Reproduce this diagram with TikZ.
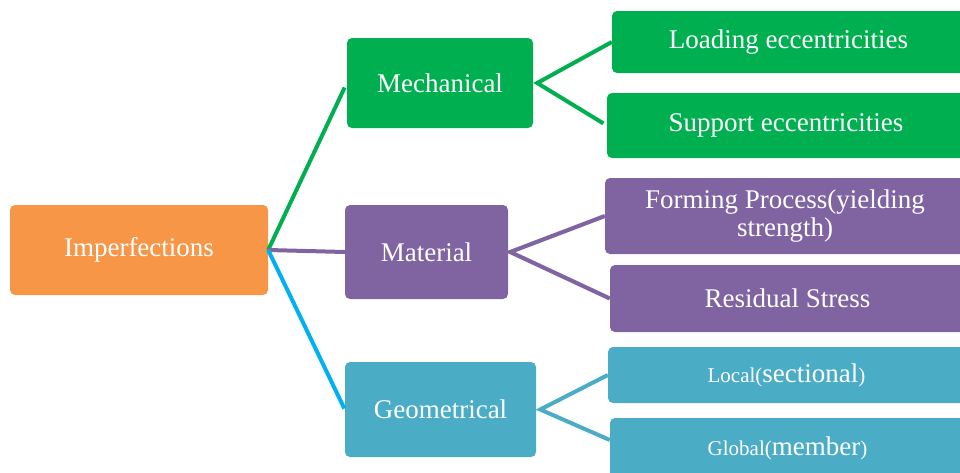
\documentclass[tikz,border=0pt]{standalone}
\usepackage{fontspec}
\setmainfont{Liberation Serif}
\usepackage{tikz}

\definecolor{mechgreen}{RGB}{0,176,80}
\definecolor{imporange}{RGB}{247,150,70}
\definecolor{matpurple}{RGB}{128,100,162}
\definecolor{geoteal}{RGB}{75,172,198}
\definecolor{linkblue}{RGB}{0,176,240}

\tikzset{
  box/.style={rounded corners=5pt, draw=none, text=white, align=center,
    inner sep=0pt, font=\fontsize{27}{30}\selectfont},
  link/.style={line width=4pt},
}

\begin{document}
\begin{tikzpicture}[x=1pt,y=1pt,yscale=-1,xscale=1]
    \useasboundingbox (0,0) rectangle (960,472);
    \clip (0,0) rectangle (960,472);

    % Text Node
    \node [box, fill=imporange, minimum width=258pt, minimum height=90pt] (imp) at (139,250) {Imperfections};
    % Text Node
    \node [box, fill=mechgreen, minimum width=186pt, minimum height=90pt] (mech) at (440,83) {Mechanical};
    % Text Node
    \node [box, fill=matpurple, minimum width=163pt, minimum height=94pt] (mat) at (426.5,252) {Material};
    % Text Node
    \node [box, fill=geoteal, minimum width=191pt, minimum height=95pt] (geo) at (440.5,409.5) {Geometrical};

    % Text Node
    \node [box, fill=mechgreen, minimum width=353pt, minimum height=62pt] (load) at (788.5,42) {Loading eccentricities};
    % Text Node
    \node [box, fill=mechgreen, minimum width=358pt, minimum height=65pt] (supp) at (786,125.5) {Support eccentricities};
    % Text Node
    \node [box, fill=matpurple, minimum width=360pt, minimum height=76pt] (form) at (785,216) {Forming Process(yielding\\[-2pt]strength)};
    % Text Node
    \node [box, fill=matpurple, minimum width=355pt, minimum height=67pt] (resid) at (787.5,298.5) {Residual Stress};
    % Text Node
    \node [box, fill=geoteal, minimum width=357pt, minimum height=56pt] (local) at (786.5,375) {{\fontsize{21}{24}\selectfont Local(}sectional{\fontsize{21}{24}\selectfont )}};
    % Text Node
    \node [box, fill=geoteal, minimum width=355pt, minimum height=60pt] (glob) at (787.5,448) {{\fontsize{21}{24}\selectfont Global(}member{\fontsize{21}{24}\selectfont )}};

    %Straight Lines
    \draw [link, mechgreen, shorten >=5pt] (imp.east) -- (mech.west);
    \draw [link, matpurple] (imp.east) -- (mat.west);
    \draw [link, linkblue, shorten >=1pt] (imp.east) -- (geo.west);

    %Straight Lines
    \draw [link, mechgreen, line join=miter, shorten >=4pt] (load.west) -- ([xshift=4pt]mech.east) -- (supp.west);
    \draw [link, black!35, opacity=0.5, shift={(2pt,3pt)}] (form.west) -- ([xshift=2pt]mat.east) -- (resid.west);
    \draw [link, matpurple] (form.west) -- ([xshift=2pt]mat.east) -- (resid.west);
    \draw [link, geoteal] (local.west) -- ([xshift=4pt]geo.east) -- ([yshift=-8pt]glob.west);

\end{tikzpicture}
\end{document}
